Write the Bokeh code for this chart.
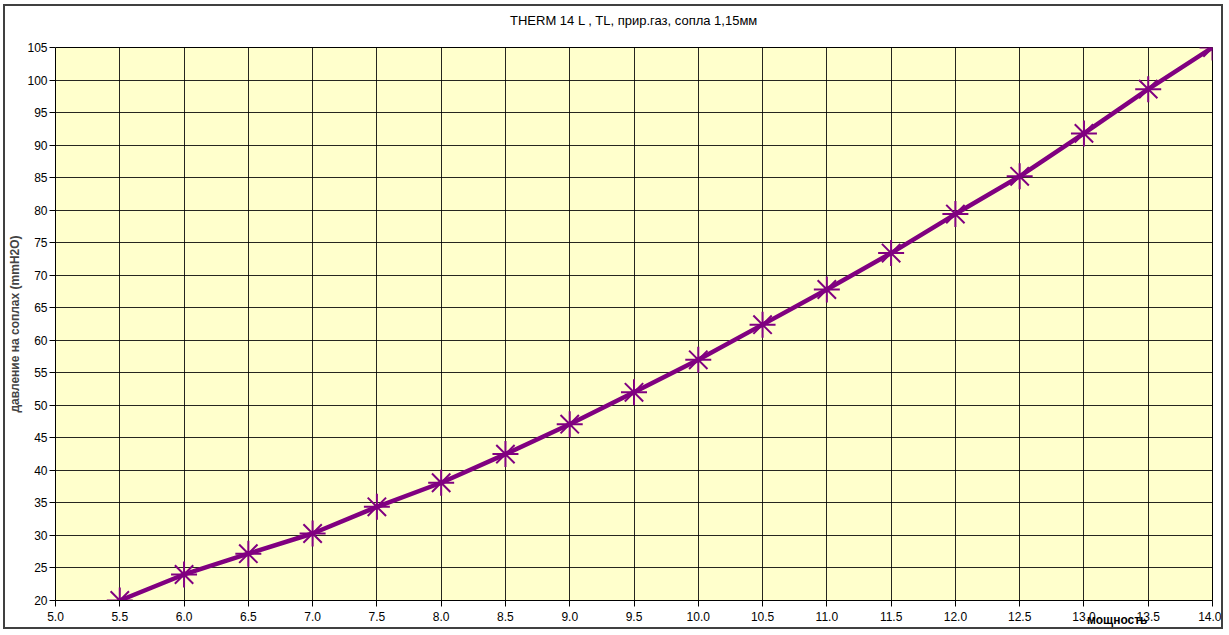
from bokeh.plotting import figure
from bokeh.models import Title, FixedTicker, NumeralTickFormatter, Range1d, LinearAxis
from bokeh.embed import file_html
from bokeh.resources import INLINE

# Data
power = [5.5, 6.0, 6.5, 7.0, 7.5, 8.0, 8.5, 9.0, 9.5, 10.0, 10.5, 11.0, 11.5, 12.0, 12.5, 13.0, 13.5, 14.0]
pressure = [20.0, 24.0, 27.2, 30.3, 34.4, 38.1, 42.5, 47.1, 52.0, 57.0, 62.4, 67.8, 73.4, 79.4, 85.2, 91.8, 98.6, 105.0]
x_ticks = [5.0, 5.5, 6.0, 6.5, 7.0, 7.5, 8.0, 8.5, 9.0, 9.5, 10.0, 10.5, 11.0, 11.5, 12.0, 12.5, 13.0, 13.5, 14.0]
y_ticks = [20, 25, 30, 35, 40, 45, 50, 55, 60, 65, 70, 75, 80, 85, 90, 95, 100, 105]
title_text = "THERM 14 L , TL, прир.газ, сопла 1,15мм"
y_label = "давление на соплах (mmH2O)"
x_label = "мощность"

FONT = "Liberation Sans"
PURPLE = "#800080"

p = figure(width=1220, height=625, output_backend="svg", toolbar_location=None,
           x_range=Range1d(5.0, 14.0), y_range=Range1d(20, 105),
           min_border_left=49, min_border_right=13, min_border_top=41, min_border_bottom=31)
p.styles = {"border": "2px solid #404040", "margin-left": "3px", "margin-top": "4px"}

xax = p.xaxis[0]
yax = p.yaxis[0]

# invisible spacer between frame and title (pushes the title upward)
spacer = LinearAxis(ticker=FixedTicker(ticks=[x_ticks[0]]), major_label_overrides={x_ticks[0]: ""},
                    major_tick_out=20, major_tick_in=0,
                    major_tick_line_color="#FFFFFF", minor_tick_line_color=None,
                    axis_line_color=None, major_label_standoff=0)
p.add_layout(spacer, "above")

p.title.text = title_text
p.title.align = "center"
p.title.vertical_align = "bottom"
p.title.text_font = FONT
p.title.text_font_size = "13px"
p.title.text_font_style = "normal"
p.title.text_color = "#000000"
p.title.offset = 0
p.title.standoff = 0

p.background_fill_color = "#FFFFCC"
p.border_fill_color = "#FFFFFF"
p.outline_line_color = "#000000"
p.outline_line_width = 1

for ax in (xax, yax):
    ax.major_label_text_font = FONT
    ax.major_label_text_font_size = "12px"
    ax.major_label_text_color = "#000000"
    ax.axis_line_color = "#000000"
    ax.major_tick_line_color = "#000000"
    ax.major_tick_out = 6
    ax.major_tick_in = 0
    ax.minor_tick_line_color = None

xax.ticker = FixedTicker(ticks=x_ticks)
xax.formatter = NumeralTickFormatter(format="0.0")
xax.major_label_standoff = 5
yax.ticker = FixedTicker(ticks=y_ticks)
yax.major_label_standoff = 2

yax.axis_label = y_label
yax.axis_label_text_font = FONT
yax.axis_label_text_font_size = "12px"
yax.axis_label_text_font_style = "bold"
yax.axis_label_standoff = 2

p.xgrid.ticker = FixedTicker(ticks=x_ticks)
p.ygrid.ticker = FixedTicker(ticks=y_ticks)
p.grid.grid_line_color = "#000000"
p.grid.grid_line_width = 1
p.grid.grid_line_alpha = 0.85

p.line(power, pressure, line_color=PURPLE, line_width=4.5)
p.scatter(power, pressure, marker="asterisk", size=26, line_color=PURPLE, line_width=2)

xt = Title(text=x_label, align="right", vertical_align="top", offset=65, text_font=FONT,
           text_font_size="12px", text_font_style="bold", text_color="#000000", standoff=-22)
p.add_layout(xt, "below")

open("out.html", "w").write(file_html(p, INLINE))
